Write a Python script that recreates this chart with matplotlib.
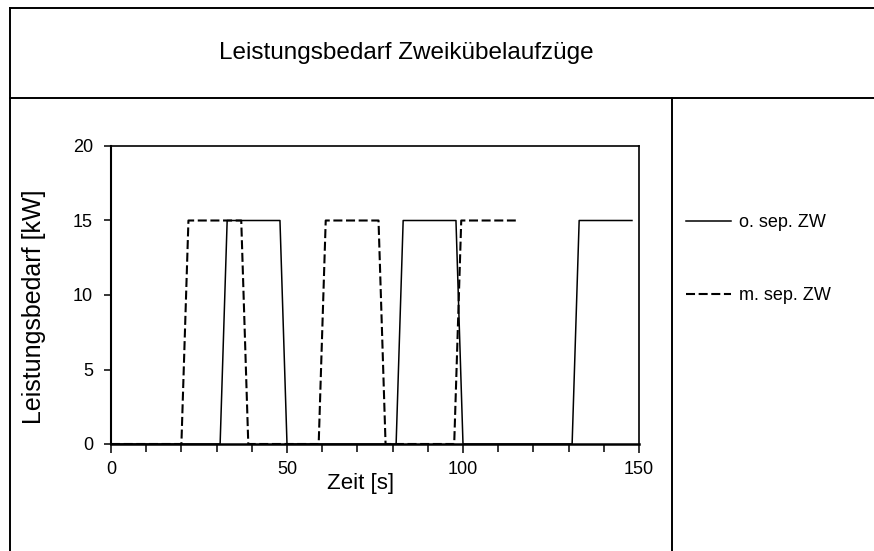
import matplotlib
matplotlib.use('Agg')
import matplotlib.pyplot as plt
from matplotlib.lines import Line2D
from matplotlib.ticker import MultipleLocator

# Zeit [s] / Leistung [kW]
t_ohne = [0, 31, 33, 48, 50, 81, 83, 98, 100, 131, 133, 148]
p_ohne = [0, 0, 15, 15, 0, 0, 15, 15, 0, 0, 15, 15]
t_mit = [0, 20, 22, 37, 39, 59, 61, 76, 78, 97.5, 99.5, 115]
p_mit = [0, 0, 15, 15, 0, 0, 15, 15, 0, 0, 15, 15]
labels = ['o. sep. ZW', 'm. sep. ZW']
title = 'Leistungsbedarf Zweikübelaufzüge'
x_ticks = [0, 50, 100, 150]
y_ticks = [0, 5, 10, 15, 20]

plt.rcParams['font.family'] = ['Liberation Sans', 'DejaVu Sans']
plt.rcParams['lines.scale_dashes'] = False

W, H = 874, 551
fig = plt.figure(figsize=(W / 100, H / 100), dpi=100)

def px(x, y):
    return x / W, 1 - y / H

# outer frame lines
for (x0, y0), (x1, y1) in [((10, 8), (874, 8)), ((10, 8), (10, 551)),
                           ((10, 98), (874, 98)), ((672, 98), (672, 551))]:
    a, b = px(x0, y0)
    c, d = px(x1, y1)
    fig.add_artist(Line2D([a, c], [b, d], transform=fig.transFigure,
                          color='black', lw=1.4))

tx, ty = px(406, 53)
fig.text(tx, ty, title, ha='center', va='center', fontsize=17.5)

l, b = 111 / W, 1 - 444 / H
ax = fig.add_axes([l, b, (639 - 111) / W, (444 - 146) / H])

h1, = ax.plot(t_ohne, p_ohne, color='black', lw=1.1, label=labels[0])
h2, = ax.plot(t_mit, p_mit, color='black', lw=1.5, dashes=(6.5, 2.6),
              label=labels[1])

ax.set_xlim(0, 150)
ax.set_ylim(0, 20)
ax.set_xticks(x_ticks)
ax.set_yticks(y_ticks)
ax.xaxis.set_minor_locator(MultipleLocator(10))
ax.tick_params(axis='x', which='major', direction='out', length=6.5, width=1.1,
               labelsize=13, pad=6)
ax.tick_params(axis='x', which='minor', direction='out', length=5.5, width=1.1)
ax.tick_params(axis='y', direction='out', length=5, width=1.1,
               labelsize=13, pad=8)
for s in ax.spines.values():
    s.set_linewidth(1.2)
ax.spines['bottom'].set_linewidth(1.8)
ax.spines['left'].set_linewidth(1.5)

ax.set_xlabel('Zeit [s]', fontsize=16)
ax.xaxis.label.set_va('center')
ax.xaxis.set_label_coords((361 - 111) / 528, (444 - 483) / 298)
ax.set_ylabel('Leistungsbedarf [kW]', fontsize=18)
ax.yaxis.label.set_va('center')
ax.yaxis.set_label_coords((34 - 111) / 528, (444 - 307) / 298)

lx, ly = px(686, 214)
fig.legend(handles=[h1, h2], loc='upper left', bbox_to_anchor=(lx, ly),
           frameon=False, fontsize=13, handlelength=2.5, handletextpad=0.45,
           labelspacing=3.1, borderpad=0, borderaxespad=0)

fig.savefig('out.png', dpi=100)
